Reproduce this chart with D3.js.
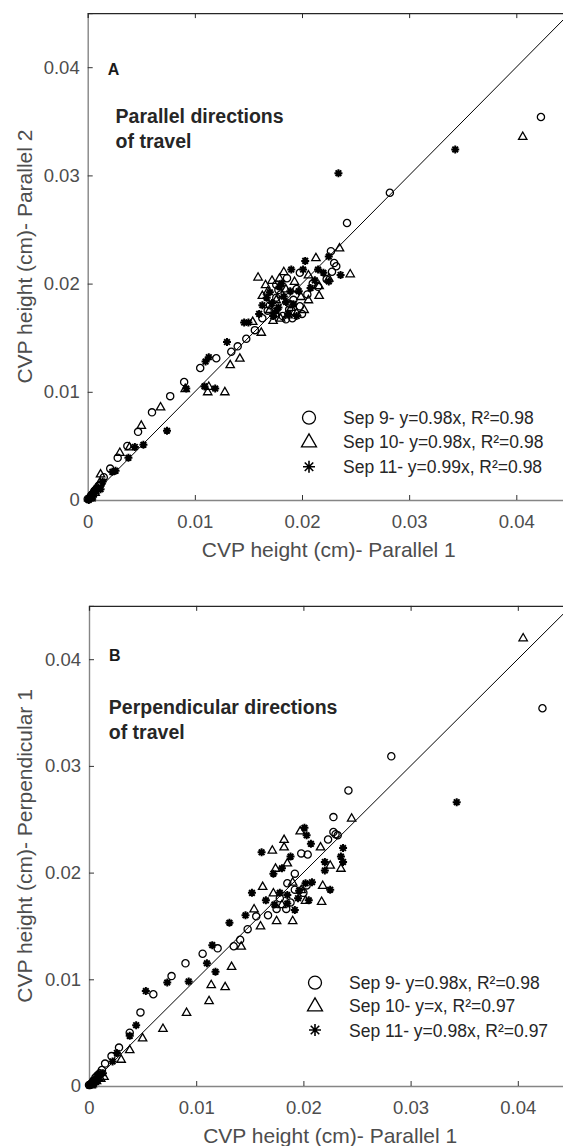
<!DOCTYPE html>
<html>
<head>
<meta charset="utf-8">
<script src="https://cdn.jsdelivr.net/npm/d3@7"></script>
<style>
body { margin: 0; background: #fff; }
text { font-family: "Liberation Sans", Arial, Helvetica, sans-serif; }
</style>
</head>
<body>
<div id="chart"></div>
<script>
// tick values and labels (both axes share them)
var tickValues = [0, 0.01, 0.02, 0.03, 0.04];
var tickLabels = ["0", "0.01", "0.02", "0.03", "0.04"];
var fitLine = [0, 0.045]; // y = x reference line

// panel A - parallel directions of travel
var sep9A = [[0.0423,0.0354],[0.0282,0.0284],[0.0242,0.0256],[0.0227,0.0230],[0.0230,0.0219],[0.0232,0.0216],
  [0.0228,0.0211],[0.0223,0.0204],[0.0198,0.0210],[0.0176,0.0199],[0.0186,0.0205],[0.0185,0.0167],[0.0198,0.0179],
  [0.0215,0.0197],[0.0156,0.0157],[0.0148,0.0149],[0.0140,0.0142],[0.0134,0.0137],[0.0120,0.0131],[0.0105,0.0122],
  [0.0090,0.0109],[0.0077,0.0096],[0.0060,0.0081],[0.0047,0.0063],[0.0037,0.0050],[0.0028,0.0039],[0.0021,0.0029],
  [0.0015,0.0021],[0.0170,0.0180],[0.0175,0.0172],[0.0180,0.0190],[0.0188,0.0176],[0.0192,0.0185],[0.0195,0.0195],
  [0.0168,0.0175],[0.0182,0.0170],[0.0200,0.0172],[0.0205,0.0190],[0.0178,0.0194],[0.0163,0.0168],[0.0210,0.0200],
  [0.0189,0.0181],[0.0191,0.0168],[0.0176,0.0187],[0.0010,0.0013],[0.0008,0.0010],[0.0006,0.0008],[0.0005,0.0006],
  [0.0004,0.0005],[0.0003,0.0003],[0.0002,0.0002],[0.0001,0.0001],[0.0007,0.0009],[0.0012,0.0014],[0.0003,0.0004],
  [0.0000,0.0001]];
var sep10A = [[0.0406,0.0336],[0.0235,0.0233],[0.0213,0.0224],[0.0245,0.0209],[0.0159,0.0206],[0.0172,0.0203],
  [0.0183,0.0211],[0.0206,0.0208],[0.0216,0.0198],[0.0163,0.0189],[0.0166,0.0199],[0.0216,0.0189],[0.0206,0.0185],
  [0.0195,0.0173],[0.0173,0.0166],[0.0154,0.0165],[0.0162,0.0155],[0.0142,0.0131],[0.0133,0.0125],[0.0091,0.0103],
  [0.0113,0.0105],[0.0112,0.0100],[0.0128,0.0100],[0.0068,0.0086],[0.0050,0.0069],[0.0039,0.0049],[0.0030,0.0044],
  [0.0012,0.0024],[0.0176,0.0185],[0.0185,0.0195],[0.0190,0.0178],[0.0170,0.0176],[0.0199,0.0188],[0.0180,0.0168],
  [0.0225,0.0205],[0.0168,0.0193],[0.0193,0.0202],[0.0202,0.0176],[0.0179,0.0205],[0.0187,0.0171],[0.0009,0.0012],
  [0.0006,0.0009],[0.0004,0.0006],[0.0002,0.0003],[0.0001,0.0002],[0.0011,0.0016],[0.0007,0.0007],[0.0003,0.0002]];
var sep11A = [[0.0234,0.0302],[0.0343,0.0324],[0.0225,0.0225],[0.0203,0.0221],[0.0236,0.0208],[0.0190,0.0213],
  [0.0201,0.0213],[0.0215,0.0213],[0.0225,0.0202],[0.0179,0.0197],[0.0146,0.0164],[0.0130,0.0146],[0.0113,0.0132],
  [0.0110,0.0128],[0.0092,0.0103],[0.0109,0.0105],[0.0119,0.0103],[0.0074,0.0064],[0.0044,0.0049],[0.0052,0.0051],
  [0.0038,0.0039],[0.0026,0.0027],[0.0023,0.0026],[0.0014,0.0017],[0.0163,0.0180],[0.0167,0.0187],[0.0172,0.0182],
  [0.0178,0.0178],[0.0183,0.0188],[0.0187,0.0172],[0.0192,0.0181],[0.0197,0.0193],[0.0173,0.0170],[0.0181,0.0200],
  [0.0208,0.0196],[0.0170,0.0192],[0.0212,0.0203],[0.0160,0.0172],[0.0195,0.0170],[0.0185,0.0183],[0.0220,0.0210],
  [0.0150,0.0164],[0.0176,0.0175],[0.0189,0.0193],[0.0010,0.0011],[0.0008,0.0008],[0.0006,0.0007],[0.0004,0.0004],
  [0.0002,0.0002],[0.0001,0.0000],[0.0005,0.0003],[0.0012,0.0010]];
var legendA = ["Sep 9- y=0.98x, R\u00b2=0.98", "Sep 10- y=0.98x, R\u00b2=0.98", "Sep 11- y=0.99x, R\u00b2=0.98"];

// panel B - perpendicular directions of travel
var sep9B = [[0.0423,0.0354],[0.0282,0.0309],[0.0242,0.0277],[0.0228,0.0252],[0.0228,0.0238],[0.0230,0.0236],
  [0.0232,0.0235],[0.0223,0.0231],[0.0204,0.0217],[0.0156,0.0159],[0.0167,0.0160],[0.0175,0.0166],[0.0184,0.0166],
  [0.0148,0.0147],[0.0141,0.0137],[0.0135,0.0131],[0.0106,0.0124],[0.0120,0.0129],[0.0090,0.0115],[0.0077,0.0103],
  [0.0060,0.0086],[0.0048,0.0069],[0.0038,0.0050],[0.0028,0.0036],[0.0021,0.0028],[0.0015,0.0021],[0.0185,0.0190],
  [0.0192,0.0199],[0.0198,0.0218],[0.0203,0.0188],[0.0192,0.0184],[0.0200,0.0181],[0.0178,0.0176],[0.0188,0.0172],
  [0.0010,0.0012],[0.0008,0.0010],[0.0006,0.0008],[0.0004,0.0005],[0.0003,0.0003],[0.0002,0.0002],[0.0001,0.0001],
  [0.0012,0.0015],[0.0000,0.0001]];
var sep10B = [[0.0405,0.0420],[0.0245,0.0251],[0.0197,0.0239],[0.0182,0.0231],[0.0182,0.0224],[0.0171,0.0221],
  [0.0216,0.0224],[0.0235,0.0204],[0.0225,0.0207],[0.0218,0.0188],[0.0217,0.0173],[0.0174,0.0204],[0.0185,0.0209],
  [0.0162,0.0187],[0.0154,0.0166],[0.0160,0.0150],[0.0175,0.0155],[0.0190,0.0155],[0.0142,0.0131],[0.0133,0.0112],
  [0.0114,0.0095],[0.0127,0.0093],[0.0112,0.0080],[0.0091,0.0069],[0.0069,0.0054],[0.0050,0.0045],[0.0038,0.0034],
  [0.0030,0.0025],[0.0014,0.0009],[0.0172,0.0181],[0.0198,0.0184],[0.0202,0.0174],[0.0190,0.0191],[0.0180,0.0170],
  [0.0009,0.0008],[0.0007,0.0005],[0.0005,0.0004],[0.0003,0.0002],[0.0011,0.0007],[0.0002,0.0001],[0.0006,0.0006]];
var sep11B = [[0.0343,0.0266],[0.0201,0.0242],[0.0203,0.0235],[0.0207,0.0227],[0.0161,0.0219],[0.0237,0.0223],
  [0.0235,0.0215],[0.0237,0.0210],[0.0220,0.0210],[0.0220,0.0202],[0.0225,0.0184],[0.0152,0.0181],[0.0146,0.0160],
  [0.0131,0.0153],[0.0115,0.0132],[0.0110,0.0115],[0.0118,0.0107],[0.0093,0.0098],[0.0073,0.0097],[0.0053,0.0089],
  [0.0044,0.0057],[0.0038,0.0047],[0.0026,0.0031],[0.0022,0.0023],[0.0172,0.0199],[0.0178,0.0181],[0.0185,0.0179],
  [0.0195,0.0176],[0.0202,0.0190],[0.0205,0.0174],[0.0192,0.0165],[0.0165,0.0174],[0.0173,0.0170],[0.0185,0.0171],
  [0.0208,0.0191],[0.0180,0.0204],[0.0188,0.0215],[0.0196,0.0183],[0.0010,0.0011],[0.0008,0.0009],[0.0006,0.0006],
  [0.0004,0.0005],[0.0002,0.0002],[0.0001,0.0001],[0.0005,0.0003],[0.0013,0.0012]];
var legendB = ["Sep 9- y=0.98x, R\u00b2=0.98", "Sep 10- y=x, R\u00b2=0.97", "Sep 11- y=0.98x, R\u00b2=0.97"];

var W = 563, H = 1146;
var svg = d3.select("#chart").append("svg")
  .attr("width", W)
  .attr("height", H);

// marker shapes
function markerPath(type, r) {
  if (type == "circle") {
    return "M" + r + ",0A" + r + "," + r + " 0 1,1 " + (-r) + ",0A" + r + "," + r + " 0 1,1 " + r + ",0Z";
  }
  if (type == "triangle") {
    var h = r * 1.75;
    return "M0," + (-h * 0.6) + "L" + r + "," + (h * 0.4) + "L" + (-r) + "," + (h * 0.4) + "Z";
  }
  // asterisk, 8 arms like the matlab '*'
  var d = r * 0.7071;
  return "M" + (-r) + ",0L" + r + ",0M0," + (-r) + "L0," + r +
    "M" + (-d) + "," + (-d) + "L" + d + "," + d + "M" + (-d) + "," + d + "L" + d + "," + (-d);
}

function customAxis(g, axis) {
  g.call(axis);
  g.select(".domain").attr("stroke", "#858585").attr("stroke-width", 1.4);
  g.selectAll(".tick line").attr("stroke", "#333");
}

// xUnit / yUnit = pixels for 0.01
function drawPanel(cfg) {
  var x = d3.scaleLinear().domain([0, 0.045]).range([cfg.left, cfg.left + cfg.xUnit * 4.5]);
  var y = d3.scaleLinear().domain([0, 0.045]).range([cfg.bottom, cfg.bottom - cfg.yUnit * 4.5]);
  var g = svg.append("g");

  // axes
  var xAxis = d3.axisBottom(x).tickValues(tickValues).tickSize(-5).tickPadding(15)
    .tickFormat(function (d, i) { return tickLabels[i]; });
  var yAxis = d3.axisLeft(y).tickValues(tickValues).tickSize(-5).tickPadding(8)
    .tickFormat(function (d, i) { return tickLabels[i]; });
  var topAxis = d3.axisTop(x).tickValues(tickValues.slice(1)).tickSize(-5).tickFormat("");

  g.append("g").attr("transform", "translate(0," + cfg.bottom + ")").call(customAxis, xAxis);
  g.append("g").attr("transform", "translate(" + cfg.left + ",0)").call(customAxis, yAxis);
  g.append("g").attr("transform", "translate(0," + y(0.045) + ")").call(topAxis)
    .call(function (a) {
      a.select(".domain").attr("stroke", "#262626").attr("stroke-width", 1.2);
      a.selectAll(".tick line").attr("stroke", "#262626");
    });
  g.selectAll(".tick text").attr("fill", "#4d4d4d").attr("font-size", 18.5)
    .attr("font-family", "'Liberation Sans', Arial, sans-serif");

  // axis titles
  g.append("text")
    .attr("x", x(0.0225)).attr("y", cfg.bottom + 57)
    .attr("text-anchor", "middle").attr("font-size", 21).attr("fill", "#4d4d4d")
    .text("CVP height (cm)- Parallel 1");
  g.append("text")
    .attr("transform", "translate(32," + ((y(0) + y(0.045)) / 2) + ") rotate(-90)")
    .attr("text-anchor", "middle").attr("font-size", 21).attr("fill", "#4d4d4d")
    .text(cfg.yTitle);

  // y = x line
  g.append("line")
    .attr("x1", x(fitLine[0])).attr("y1", y(fitLine[0]))
    .attr("x2", x(fitLine[1])).attr("y2", y(fitLine[1]))
    .attr("stroke", "#000").attr("stroke-width", 1);

  // points
  var series = [
    { data: cfg.sep9, type: "circle", r: 3.6, w: 1.3 },
    { data: cfg.sep10, type: "triangle", r: 4.2, w: 1.3 },
    { data: cfg.sep11, type: "star", r: 4, w: 2 }
  ];
  series.forEach(function (s) {
    g.append("g").selectAll("path")
      .data(s.data)
      .enter()
      .append("path")
      .attr("transform", function (d) { return "translate(" + x(d[0]) + "," + y(d[1]) + ")"; })
      .attr("d", markerPath(s.type, s.r))
      .attr("fill", "none")
      .attr("stroke", "#000")
      .attr("stroke-width", s.w);
  });

  // panel letter + annotation
  g.append("text").attr("x", cfg.left + 20).attr("y", cfg.letterY)
    .attr("font-size", 16).attr("font-weight", "bold").attr("fill", "#1a1a1a").text(cfg.letter);
  cfg.note.forEach(function (t, i) {
    g.append("text").attr("x", cfg.noteX).attr("y", cfg.noteY + i * 24.7)
      .attr("font-size", 19.5).attr("font-weight", "bold").attr("fill", "#262626").text(t);
  });

  // legend
  var legMarks = [
    { type: "circle", r: 6.5, w: 1.3 },
    { type: "triangle", r: 7.5, w: 1.3 },
    { type: "star", r: 6, w: 1.6 }
  ];
  cfg.legend.forEach(function (t, i) {
    var ly = cfg.legY[i];
    g.append("path")
      .attr("transform", "translate(" + cfg.legX + "," + ly + ")")
      .attr("d", markerPath(legMarks[i].type, legMarks[i].r))
      .attr("fill", "none").attr("stroke", "#000").attr("stroke-width", legMarks[i].w);
    g.append("text").attr("x", cfg.legX + 34).attr("y", ly + 6.5)
      .attr("font-size", 17.5).attr("fill", "#262626").text(t);
  });
}

drawPanel({
  left: 87.7, bottom: 500, xUnit: 107.15, yUnit: 108.2,
  sep9: sep9A, sep10: sep10A, sep11: sep11A,
  yTitle: "CVP height (cm)- Parallel 2",
  letter: "A", letterY: 75,
  note: ["Parallel directions", "of travel"], noteX: 115.6, noteY: 123.3,
  legend: legendA, legX: 309, legY: [417.7, 441.7, 466.7]
});
drawPanel({
  left: 89, bottom: 1086, xUnit: 107.2, yUnit: 106.7,
  sep9: sep9B, sep10: sep10B, sep11: sep11B,
  yTitle: "CVP height (cm)- Perpendicular 1",
  letter: "B", letterY: 660.7,
  note: ["Perpendicular directions", "of travel"], noteX: 108.8, noteY: 714,
  legend: legendB, legX: 315, legY: [982.7, 1005.7, 1030]
});
</script>
</body>
</html>
